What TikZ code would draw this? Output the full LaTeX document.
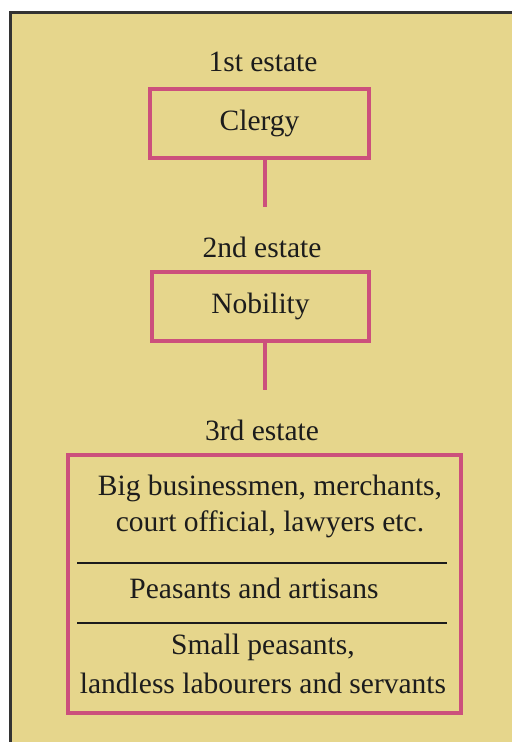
\documentclass[tikz,border=0pt]{standalone}
\usepackage{fontspec}
\setmainfont{Liberation Serif}

\definecolor{parchment}{HTML}{E6D68C}
\definecolor{estatepink}{HTML}{CC507C}
\definecolor{inkgray}{HTML}{1C1C1C}

\begin{document}
\begin{tikzpicture}[%
        x = 1pt, y = -1pt,
        every node/.style = {text = inkgray, font = \fontsize{29.5}{36}\selectfont},
        estatebox/.style = {draw = estatepink, line width = 4pt, inner sep = 0pt},
        estateline/.style = {draw = estatepink, line width = 4pt},
        splitline/.style = {draw = inkgray, line width = 2.5pt}
    ]

        \useasboundingbox (0, 0) rectangle (512, 742);

        % Parchment background and the frame on top and left.
        \fill[parchment] (10, 12) rectangle (512, 742);
        \draw[line width = 3pt, draw = inkgray!90] (10, 742) -- (10, 12) -- (512, 12);

        % First estate.
        \node (first) at (263, 62) {1st estate};
        \node[estatebox, minimum width = 219pt, minimum height = 69pt]
            (clergy) at (259.5, 123.5) {Clergy};

        % Second estate.
        \node (second) at (262, 247) {2nd estate};
        \node[estatebox, minimum width = 217pt, minimum height = 69pt]
            (nobility) at (260.5, 306.5) {Nobility};

        % Third estate.
        \node (third) at (262, 430) {3rd estate};
        \node[estatebox, minimum width = 393pt, minimum height = 258pt]
            (commons) at (264.5, 584) {};

        % Short stems below the two upper boxes.
        \coordinate (stemone) at (265, 207);
        \coordinate (stemtwo) at (265, 390);
        \draw[estateline] (clergy.south -| stemone) -- (stemone);
        \draw[estateline] (nobility.south -| stemtwo) -- (stemtwo);

        % Groups inside the third estate.
        \node[align = center] (rich) at (270, 506)
            {Big businessmen, merchants,\\court official, lawyers etc.};
        \node (peasants) at (254, 588) {Peasants and artisans};
        \node[align = center] (poor) at (263, 664)
            {Small peasants,\\[3pt]landless labourers and servants};

        % Dividing rules.
        \coordinate (ruleonew) at (77, 563);
        \coordinate (ruleonee) at (447, 563);
        \coordinate (ruletwow) at (77, 623);
        \coordinate (ruletwoe) at (447, 623);
        \draw[splitline] (ruleonew) -- (ruleonee);
        \draw[splitline] (ruletwow) -- (ruletwoe);
    \end{tikzpicture}
\end{document}
